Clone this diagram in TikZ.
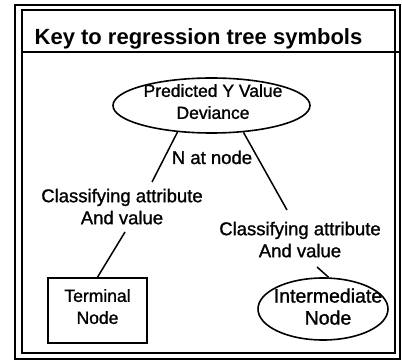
\documentclass[tikz,border=0pt]{standalone}
\usepackage{fontspec}
\setmainfont{Liberation Sans}
\newfontfamily\keyfont{Liberation Sans}[FakeBold=1.2]
\usetikzlibrary{shapes.geometric}

\begin{document}
\begin{tikzpicture}[x=1pt, y=1pt,
  keytext/.style={align=center, inner sep=0pt, font=\keyfont\fontsize{#1}{22}\selectfont},
  keytext/.default=17.5,
  keyoval/.style={draw, ellipse, line width=1.6pt, inner sep=0pt},
  keybox/.style={draw, rectangle, line width=1.6pt, inner sep=0pt},
  keyline/.style={line width=1.5pt}]
  \useasboundingbox (0,0) rectangle (402,362);

  %% Double frame and title bar
  \draw[line width=1.6pt] (15,3) rectangle (400,357);
  \draw[line width=1.4pt] (22,9) rectangle (395,352);
  \draw[line width=2.4pt] (22,310) -- (400,310);
  \node[anchor=base, inner sep=0pt, font=\fontsize{22}{26}\selectfont\bfseries] (title) at (198.5,317) {Key to regression tree symbols};

  %% Parent node symbol
  \node[keyoval, minimum width=197pt, minimum height=55pt] (pred) at (211.5,256.5) {};
  \node[keytext] (predtxt) at (213,260.4) {Predicted Y Value\\Deviance};
  \node[keytext=18.5, anchor=base] (nnode) at (212,198) {N at node};

  %% Split labels
  \node[keytext=18.5] (clsleft) at (122,155.4) {Classifying attribute\\And value};
  \node[keytext=18.5] (clsright) at (300,122.4) {Classifying attribute\\And value};

  %% Child symbols
  \node[keybox, minimum width=99pt, minimum height=65pt] (term) at (97.5,51.5) {};
  \node[keytext=17.5] (termtxt) at (97.5,55.4) {Terminal\\Node};
  \node[keyoval, minimum width=130pt, minimum height=62pt] (inter) at (323,53) {};
  \node[keytext=19.5] (intertxt) at (328,55.4) {Intermediate\\Node};

  %% Free ends at the labels
  \coordinate (l1end) at (152,180);
  \coordinate (l2end) at (287,152);
  \coordinate (l3top) at (125,130);
  \coordinate (l4top) at (317,95);

  %% Branches
  \draw[keyline] (pred.218) -- (l1end);
  \draw[keyline] (pred.320) -- (l2end);
  \draw[keyline] (l3top) -- (term.north);
  \draw[keyline] (l4top) -- (inter.80);
\end{tikzpicture}
\end{document}
